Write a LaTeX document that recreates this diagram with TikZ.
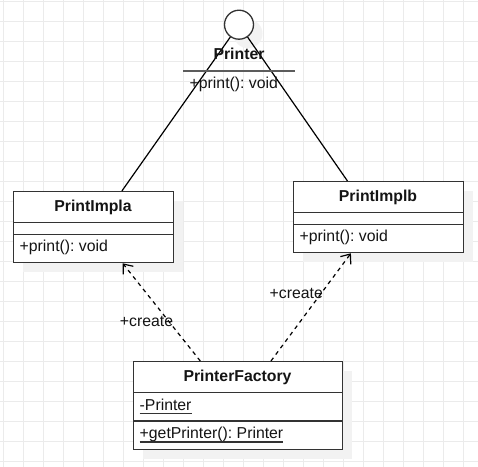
\documentclass[tikz,border=0pt]{standalone}
\usepackage{fontspec}
\setmainfont{Liberation Sans}
\usetikzlibrary{arrows.meta,shadows,calc}
\definecolor{gridc}{RGB}{235,235,235}
\definecolor{shadc}{RGB}{242,242,242}
\definecolor{edgec}{RGB}{51,51,51}
\definecolor{txtc}{RGB}{20,20,20}
\frenchspacing
\begin{document}
\begin{tikzpicture}[x=1pt,y=-1pt,
  font=\fontsize{15.8}{19}\selectfont,
  myshadow/.style={drop shadow={shadow xshift=9pt,shadow yshift=-9pt,fill=shadc,opacity=1}},
  classbox/.style={draw=edgec,line width=1.3pt,fill=white,rectangle,inner sep=0pt,anchor=north west,myshadow},
  sepline/.style={draw=edgec,line width=1.3pt},
  titletxt/.style={inner sep=0pt,font=\fontsize{15.8}{19}\selectfont\bfseries,text=txtc},
  membertxt/.style={inner sep=0pt,anchor=west,text=txtc},
  ultxt/.style={inner sep=0pt,anchor=base west,text=txtc},
  conn/.style={draw=black,line width=1.2pt},
  dep/.style={draw=black,line width=1.2pt,dash pattern=on 4pt off 4pt,-{Straight Barb[length=8pt,width=13pt,line width=1.2pt]}},
  lbl/.style={inner sep=0pt,text=txtc}
]
\useasboundingbox (0,0) rectangle (478,466);
\fill[white] (0,0) rectangle (478,466);
\begin{scope}
  \clip (0,0) rectangle (478,466);
  \begin{scope}[shift={(3.3,1.3)}]
    \draw[gridc,line width=1pt,step=20pt] (-20,-20) grid (500,500);
  \end{scope}
\end{scope}

% interface lollipop
\node[circle,draw=edgec,line width=1.3pt,fill=white,minimum size=29pt,inner sep=0pt,myshadow] (pc) at (239,24.7) {};

% classes
\node[classbox,minimum width=160pt,minimum height=71pt] (a) at (13,191) {};
\node[classbox,minimum width=170pt,minimum height=71pt] (b) at (293,181) {};
\node[classbox,minimum width=209pt,minimum height=88pt] (f) at (133,361) {};

% separators
\draw[sepline] (13,222.3) -- (173,222.3);
\draw[sepline] (13,234.3) -- (173,234.3);
\draw[sepline] (293,212.3) -- (463,212.3);
\draw[sepline] (293,224.3) -- (463,224.3);
\draw[sepline] (133,392.3) -- (342,392.3);
\draw[sepline] (133,421) -- (342,421);

% connectors from interface
\draw[conn] ($(a.north west)!0.675!(a.north east)$) -- (pc);
\draw[conn] ($(b.north west)!0.318!(b.north east)$) -- (pc);

% interface texts
\node[titletxt] (pt) at (239,54) {Printer};
\coordinate (pl1) at (183,71);
\coordinate (pl2) at (295,71);
\draw[draw=edgec!80!white,line width=1.3pt] (pl1) -- (pl2);
\node[membertxt] (pm) at (189.5,84) {+print(): void};

% class texts
\node[titletxt] (at) at (93,207) {PrintImpla};
\node[membertxt] (am) at (19.5,247.8) {+print(): void};
\node[titletxt] (bt) at (378,197) {PrintImplb};
\node[membertxt] (bm) at (299.5,237.8) {+print(): void};
\node[titletxt] (ft) at (237.5,377) {PrinterFactory};
\node[ultxt] (fa) at (139.5,410) {-Printer};
\draw[edgec,line width=1.3pt] ([yshift=-3.3pt]fa.base west) -- ([yshift=-3.3pt]fa.base east);
\node[ultxt] (fm) at (139.5,438.8) {+getPrinter(): Printer};
\draw[edgec,line width=1.3pt] ([yshift=-3.3pt]fm.base west) -- ([yshift=-3.3pt]fm.base east);

% dependencies
\draw[dep] ($(f.north west)!0.32!(f.north east)$) -- ($(a.south west)!0.68!(a.south east)$);
\draw[dep] ($(f.north west)!0.656!(f.north east)$) -- ($(b.south west)!0.338!(b.south east)$);
\node[lbl] (l1) at (146.5,321) {+create};
\node[lbl] (l2) at (296.3,293) {+create};
\end{tikzpicture}
\end{document}
